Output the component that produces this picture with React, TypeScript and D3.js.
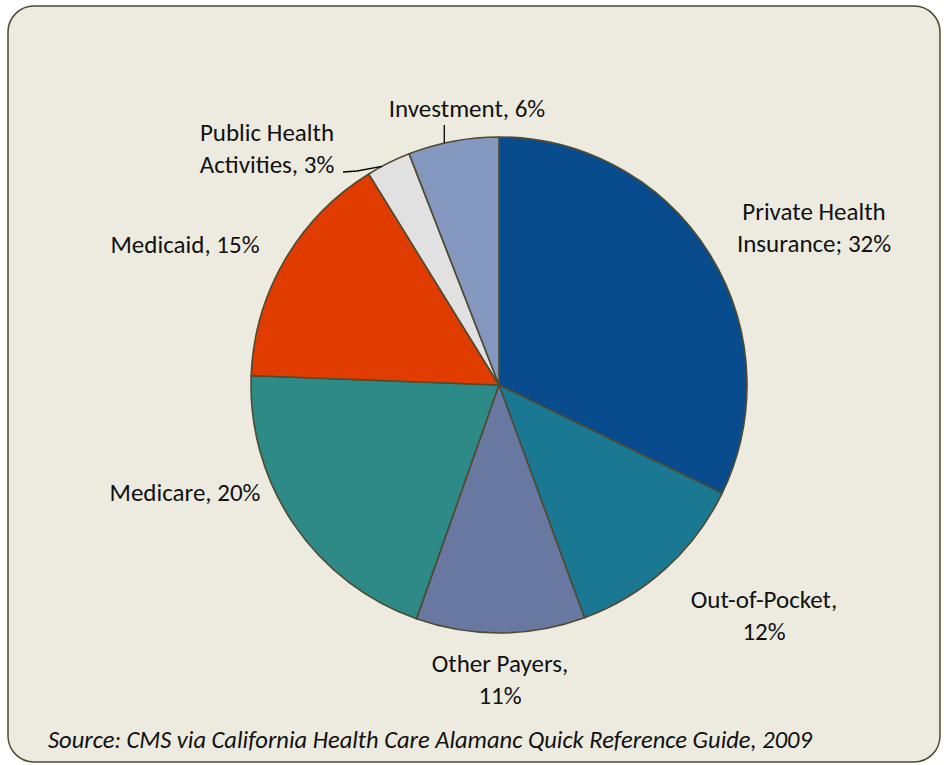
import React from "react";
import * as d3 from "d3";

const categories = [
  "Private Health Insurance",
  "Out-of-Pocket",
  "Other Payers",
  "Medicare",
  "Medicaid",
  "Public Health Activities",
  "Investment",
];
const shares = [32.2, 12.2, 11.0, 20.2, 15.6, 2.9, 5.9];
const labelTexts = [
  ["Private Health", "Insurance; 32%"],
  ["Out-of-Pocket,", "12%"],
  ["Other Payers,", "11%"],
  ["Medicare, 20%"],
  ["Medicaid, 15%"],
  ["Public Health", "Activities, 3%"],
  ["Investment, 6%"],
];
const colors = ["#084C8D", "#1B7893", "#6878A1", "#2E8A87", "#E03C00", "#E1E1E1", "#8497BE"];
const sourceText = "Source: CMS via California Health Care Alamanc Quick Reference Guide, 2009";

// label layout (center x, first baseline y)
const labelPos: [number, number][] = [
  [814, 220],
  [764, 608],
  [500, 672],
  [185, 501],
  [185, 253],
  [267, 141],
  [467, 117],
];

const W = 948;
const H = 765;
const cx = 499;
const cy = 385;
const R = 248;
const FONT = "Carlito, Calibri, 'Liberation Sans Narrow', Lato, sans-serif";

export default function App() {
  const pie = d3
    .pie<number>()
    .sort(null)
    .startAngle(0)
    .endAngle(2 * Math.PI)
    .value((d) => d);
  const arcs = pie(shares);
  const arc = d3.arc<d3.PieArcDatum<number>>().innerRadius(0).outerRadius(R);

  const invArc = arcs[6];
  const pubArc = arcs[5];
  const ptOnRim = (a: number) => [cx + R * Math.sin(a), cy - R * Math.cos(a)];
  const invAngle = invArc.startAngle + (invArc.endAngle - invArc.startAngle) * 0.4;
  const invPt = ptOnRim(invAngle);
  const pubAngle = (pubArc.startAngle + pubArc.endAngle) / 2 - 0.03;
  const pubPt = ptOnRim(pubAngle);
  const line = d3.line();

  return (
    <div style={{ position: "absolute", left: 0, top: 0 }}>
      <svg width={W} height={H} style={{ display: "block" }}>
        <rect
          x={8}
          y={6}
          width={932}
          height={756}
          rx={26}
          ry={26}
          fill="#EDEBE0"
          stroke="#4F4A30"
          strokeWidth={1.5}
        />
        <g transform={`translate(${cx},${cy})`}>
          {arcs.map((a, i) => (
            <path
              key={categories[i]}
              d={arc(a) || ""}
              fill={colors[i]}
              stroke="#4F4A30"
              strokeWidth={1.6}
              strokeLinejoin="round"
            />
          ))}
        </g>
        <path
          d={line([
            [invPt[0], 125],
            [invPt[0], invPt[1]],
          ]) || ""}
          stroke="#000"
          strokeWidth={1.3}
          fill="none"
        />
        <path
          d={line([
            [343, 172],
            [357, 171],
            [pubPt[0], pubPt[1]],
          ]) || ""}
          stroke="#000"
          strokeWidth={1.3}
          fill="none"
        />
        {labelTexts.map((lines, i) => (
          <text
            key={categories[i] + "-label"}
            x={labelPos[i][0]}
            y={labelPos[i][1]}
            textAnchor="middle"
            fontFamily={FONT}
            fontSize={25}
            fill="#111"
          >
            {lines.map((t, j) => (
              <tspan key={j} x={labelPos[i][0]} dy={j === 0 ? 0 : 32}>
                {t}
              </tspan>
            ))}
          </text>
        ))}
        <text
          x={48}
          y={748}
          fontFamily={FONT}
          fontStyle="italic"
          fontSize={24.5}
          fill="#111"
        >
          {sourceText}
        </text>
      </svg>
    </div>
  );
}
